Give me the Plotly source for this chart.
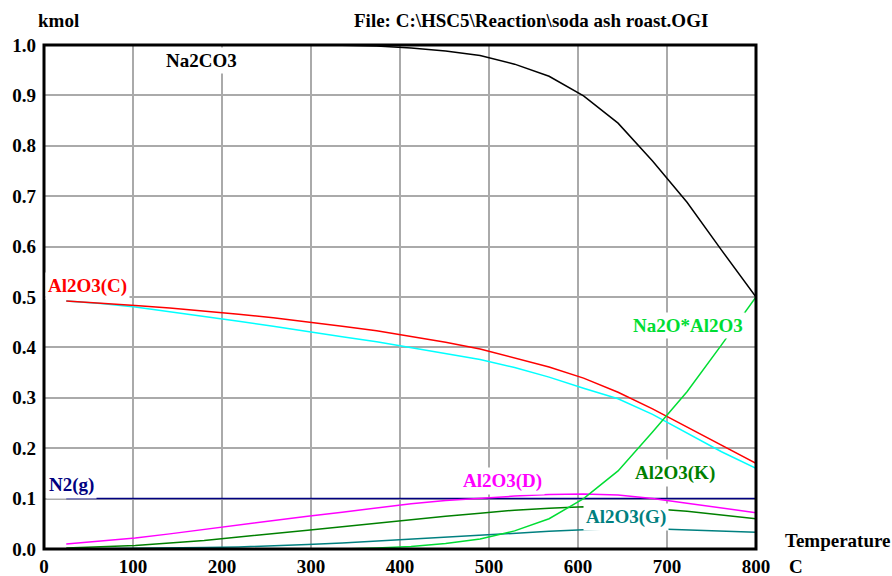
import plotly.graph_objects as go

temps = [25, 63.75, 102.5, 141.25, 180, 218.75, 257.5, 296.25, 335, 373.75, 412.5,
         451.25, 490, 528.75, 567.5, 606.25, 645, 683.75, 722.5, 761.25, 800]

na2co3 = [1.0, 1.0, 1.0, 1.0, 1.0, 1.0, 1.0, 1.0, 0.9995, 0.998, 0.994,
          0.988, 0.979, 0.962, 0.938, 0.899, 0.845, 0.770, 0.688, 0.593, 0.500]
al2o3_c = [0.492, 0.488, 0.483, 0.478, 0.4725, 0.466, 0.459, 0.451, 0.442, 0.433, 0.422,
           0.410, 0.397, 0.379, 0.361, 0.339, 0.311, 0.278, 0.242, 0.206, 0.170]
al2o3_cyan = [0.492, 0.487, 0.480, 0.471, 0.462, 0.452, 0.442, 0.431, 0.421, 0.411, 0.399,
              0.388, 0.376, 0.360, 0.341, 0.319, 0.298, 0.267, 0.230, 0.193, 0.160]
al2o3_d = [0.010, 0.016, 0.022, 0.030, 0.039, 0.047, 0.056, 0.065, 0.073, 0.082, 0.090,
           0.096, 0.101, 0.105, 0.108, 0.109, 0.107, 0.100, 0.091, 0.082, 0.072]
al2o3_k = [0.002, 0.004, 0.007, 0.012, 0.017, 0.024, 0.030, 0.037, 0.044, 0.051, 0.059,
           0.065, 0.071, 0.077, 0.081, 0.084, 0.083, 0.080, 0.075, 0.067, 0.060]
al2o3_g = [0.000, 0.0005, 0.001, 0.002, 0.003, 0.004, 0.006, 0.009, 0.012, 0.016, 0.019,
           0.023, 0.027, 0.031, 0.035, 0.038, 0.040, 0.040, 0.038, 0.036, 0.033]
na2o_al2o3 = [0.0, 0.0, 0.0, 0.0, 0.0, 0.0, 0.0, 0.0, 0.0, 0.002, 0.005,
              0.011, 0.020, 0.036, 0.060, 0.100, 0.155, 0.232, 0.312, 0.405, 0.500]
n2 = [0.1] * len(temps)

x_ticks = [0, 100, 200, 300, 400, 500, 600, 700, 800]
y_ticks = [0.0, 0.1, 0.2, 0.3, 0.4, 0.5, 0.6, 0.7, 0.8, 0.9, 1.0]
y_tick_labels = ["0.0", "0.1", "0.2", "0.3", "0.4", "0.5", "0.6", "0.7", "0.8", "0.9", "1.0"]

FONT = "Liberation Serif, Times New Roman, serif"
FS = 19

series = [
    ("N2(g)", n2, "#000080"),
    ("Al2O3(G)", al2o3_g, "#008080"),
    ("Al2O3(K)", al2o3_k, "#008000"),
    ("Al2O3(D)", al2o3_d, "#ff00ff"),
    ("Al2O3", al2o3_cyan, "#00ffff"),
    ("Al2O3(C)", al2o3_c, "#ff0000"),
    ("Na2O*Al2O3", na2o_al2o3, "#00dd33"),
    ("Na2CO3", na2co3, "#000000"),
]

fig = go.Figure()
for name, vals, col in series:
    fig.add_trace(go.Scatter(x=temps, y=vals, mode="lines", name=name,
                             line=dict(color=col, width=1.5), showlegend=False))

# plot frame (thick black border)
fig.add_shape(type="rect", xref="paper", yref="paper", x0=0, y0=0, x1=1, y1=1,
              line=dict(color="black", width=3), layer="above")

labels = [
    ("Na2CO3", 177, 0.970, "#000000"),
    ("Al2O3(C)", 49, 0.522, "#ff0000"),
    ("N2(g)", 30.5, 0.127, "#000080"),
    ("Al2O3(D)", 515.5, 0.1355, "#ff00ff"),
    ("Al2O3(K)", 709, 0.150, "#008000"),
    ("Al2O3(G)", 654, 0.063, "#008080"),
    ("Na2O*Al2O3", 723.5, 0.4425, "#00dd33"),
]
for txt, lx, ly, col in labels:
    fig.add_annotation(x=lx, y=ly, xref="x", yref="y", text=txt, showarrow=False,
                       bgcolor="white", borderpad=2,
                       font=dict(family=FONT, size=FS, color=col, weight="bold"))

L, R, T, B = 44, 756, 45, 549
def px(xp, yp):
    return (xp - L) / (R - L), (B - yp) / (B - T)

for txt, xp, yp, anc in [("kmol", 58.5, 20.7, "center"),
                         ("File: C:\\HSC5\\Reaction\\soda ash roast.OGI", 710, 20.7, "right"),
                         ("Temperature", 838, 540, "center"),
                         ("C", 796, 566, "center")]:
    xx, yy = px(xp, yp)
    fig.add_annotation(x=xx, y=yy, xref="paper", yref="paper", text=txt, showarrow=False,
                       xanchor=anc, yanchor="middle",
                       font=dict(family=FONT, size=FS, color="black", weight="bold"))

fig.update_layout(
    width=892, height=576,
    margin=dict(l=L, r=892 - R, t=T, b=576 - B),
    paper_bgcolor="white", plot_bgcolor="white",
    font=dict(family=FONT, size=FS, color="black", weight="bold"),
    xaxis=dict(range=[0, 800], tickvals=x_ticks, showgrid=True, gridcolor="#aaaaaa",
               gridwidth=1.5, zeroline=False, showline=False, automargin=False,
               ticks="", ticklabelstandoff=4,
               tickfont=dict(family=FONT, size=FS, color="black", weight="bold")),
    yaxis=dict(range=[0, 1], tickvals=y_ticks, ticktext=y_tick_labels, showgrid=True,
               gridcolor="#aaaaaa", gridwidth=1.5, zeroline=False, showline=False,
               automargin=False, ticks="", ticklabelstandoff=7,
               tickfont=dict(family=FONT, size=FS, color="black", weight="bold")),
)

fig.write_html("out.html")
